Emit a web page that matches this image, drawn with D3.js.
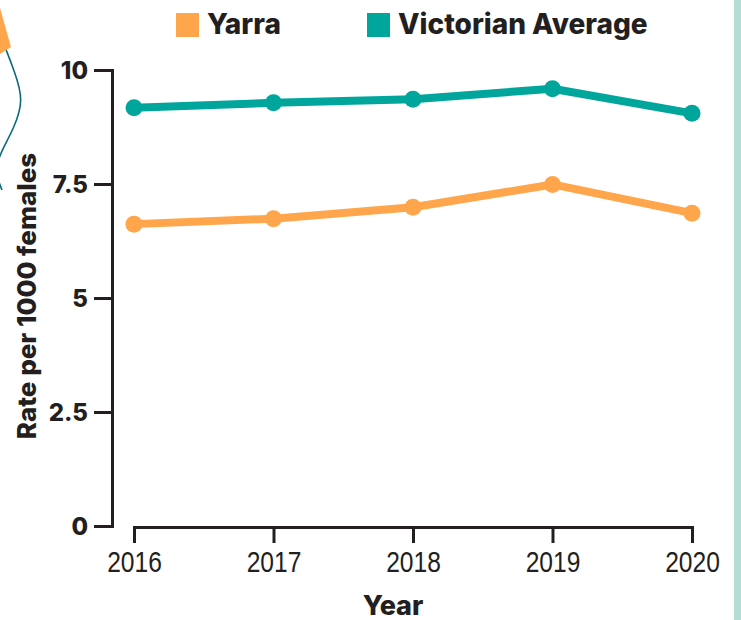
<!DOCTYPE html>
<meta charset="utf-8">
<style>
  body { margin: 0; background: #fff; }
  svg { display: block; }
  .axis path, .axis line { stroke: #231f20; stroke-width: 3; }
  .axis--y text { font-family: Inter, sans-serif; font-weight: 800; font-size: 24px; fill: #231f20; }
  .axis--x text { font-family: "Liberation Sans", sans-serif; font-size: 30px; fill: #231f20; }
  .title { font-family: Inter, sans-serif; font-weight: 800; fill: #231f20; }
</style>
<svg></svg>
<script src="https://cdn.jsdelivr.net/npm/d3@7"></script>
<script>
// DATA
var years = [2016, 2017, 2018, 2019, 2020];
var yarra = [6.62, 6.74, 6.99, 7.49, 6.86];
var victorian = [9.17, 9.28, 9.36, 9.59, 9.05];
var yTicks = [0, 2.5, 5, 7.5, 10];
var seriesNames = ["Yarra", "Victorian Average"];
var seriesColors = ["#ffa64d", "#00a69c"];

var svg = d3.select("svg").attr("width", 741).attr("height", 620);

// right hand border strip
svg.append("rect").attr("x", 734).attr("y", 0).attr("width", 7).attr("height", 620)
   .attr("fill", "#b3ddd5");

// left decoration: arrow tip + squiggle
svg.append("path")
   .attr("d", d3.line().curve(d3.curveBasis)([[5, 47], [14, 70], [24, 100], [14, 128], [2, 150], [-6, 170], [2, 190]]))
   .attr("fill", "none").attr("stroke", "#0b6b7a").attr("stroke-width", 1.6);
svg.append("path").attr("d", "M0,8L11,47L0,54Z").attr("fill", "#ffa64d");

// scales
var x = d3.scalePoint().domain(years).range([134, 692]);
var y = d3.scaleLinear().domain([0, 10]).range([526, 70]);

// axes
svg.append("g").attr("class", "axis axis--y")
   .attr("transform", "translate(112,0)")
   .call(d3.axisLeft(y).tickValues(yTicks).tickSize(18).tickPadding(6).tickFormat(d3.format("")))
   .call(function(g) { g.selectAll("text").attr("dy", "0.36em"); });

svg.append("g").attr("class", "axis axis--x")
   .attr("transform", "translate(0,527)")
   .call(d3.axisBottom(x).tickSize(16).tickPadding(8).tickFormat(d3.format("d")))
   .call(function(g) { g.selectAll("text").attr("transform", "scale(0.82,1)"); });

svg.selectAll(".axis .domain").attr("fill", "none");

// axis titles
svg.append("text").attr("class", "title")
   .attr("transform", "translate(36,296) rotate(-90)")
   .attr("text-anchor", "middle").attr("font-size", 26)
   .text("Rate per 1000 females");
svg.append("text").attr("class", "title")
   .attr("x", 393).attr("y", 615).attr("text-anchor", "middle").attr("font-size", 27)
   .text("Year");

// lines
var line = d3.line()
    .x(function(d, i) { return x(years[i]); })
    .y(function(d) { return y(d); });

[yarra, victorian].forEach(function(s, k) {
  svg.append("path").datum(s)
     .attr("d", line)
     .attr("fill", "none")
     .attr("stroke", seriesColors[k])
     .attr("stroke-width", 8)
     .attr("stroke-linejoin", "round");
  svg.selectAll(null).data(s).enter().append("circle")
     .attr("cx", function(d, i) { return x(years[i]); })
     .attr("cy", function(d) { return y(d); })
     .attr("r", 8.5)
     .attr("fill", seriesColors[k]);
});

// legend
var legendX = [176, 367];
seriesNames.forEach(function(name, k) {
  svg.append("rect").attr("x", legendX[k]).attr("y", 13).attr("width", 23).attr("height", 24)
     .attr("fill", seriesColors[k]);
  svg.append("text").attr("class", "title")
     .attr("x", legendX[k] + 31).attr("y", 34).attr("font-size", 28)
     .text(name);
});
</script>
